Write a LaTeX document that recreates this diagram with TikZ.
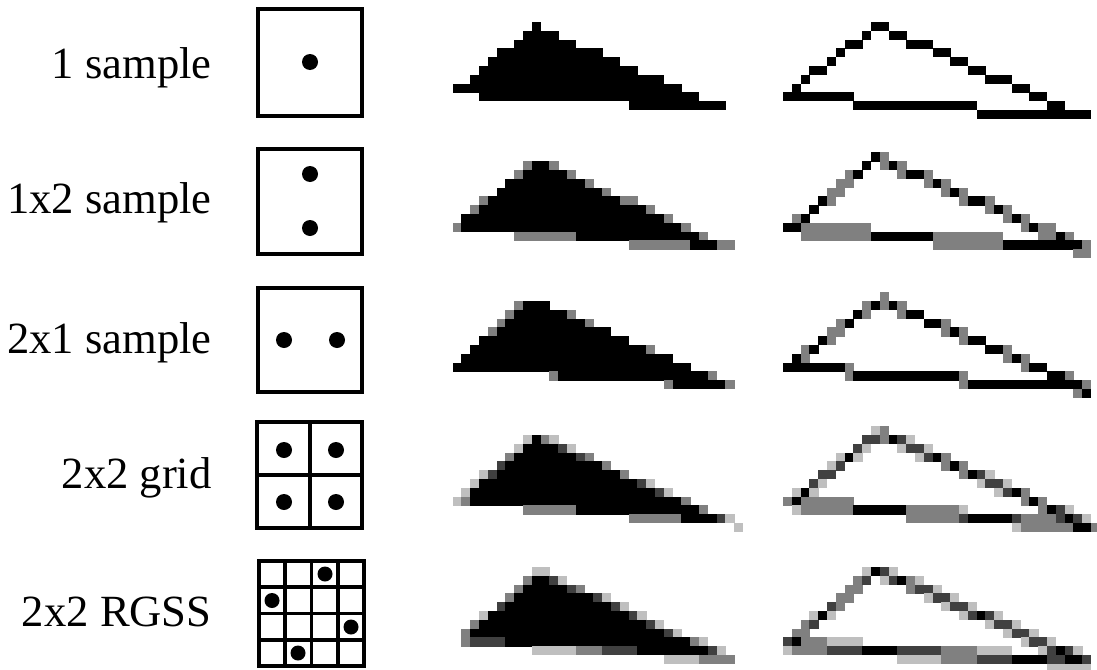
\documentclass[tikz,border=0pt]{standalone}
\usepackage{fontspec}
\setmainfont{Liberation Serif}
\newcount\rcnt
\newcount\onflag
\def\pix{8.8}
\def\gx{0}
\def\gy{0}
\def\sOne{0.5/0.5}
\def\sOneTwo{0.5/0.25,0.5/0.75}
\def\sTwoOne{0.25/0.5,0.75/0.5}
\def\sGrid{0.25/0.25,0.75/0.25,0.25/0.75,0.75/0.75}
\def\sRGSS{0.625/0.125,0.125/0.375,0.875/0.625,0.375/0.875}
\newcommand\prepverts[6]{%
  \pgfmathsetmacro\Au{(#1-\gx)/\pix}\pgfmathsetmacro\Av{(#2-\gy)/\pix}%
  \pgfmathsetmacro\Bu{(#3-\gx)/\pix}\pgfmathsetmacro\Bv{(#4-\gy)/\pix}%
  \pgfmathsetmacro\Cu{(#5-\gx)/\pix}\pgfmathsetmacro\Cv{(#6-\gy)/\pix}%
  \pgfmathtruncatemacro\imin{floor(min(\Au,\Bu,\Cu))-1}%
  \pgfmathtruncatemacro\imax{floor(max(\Au,\Bu,\Cu))+1}%
  \pgfmathtruncatemacro\jmin{floor(min(\Av,\Bv,\Cv))-1}%
  \pgfmathtruncatemacro\jmax{floor(max(\Av,\Bv,\Cv))+1}%
}
\newcommand\pixfill[1]{%
  \ifnum\rcnt>0
    \pgfmathtruncatemacro\shade{100*\the\rcnt/#1}%
    \fill[black!\shade] (\i*\pix+\gx-0.15,\j*\pix+\gy-0.15) rectangle (\i*\pix+\pix+\gx+0.15,\j*\pix+\pix+\gy+0.15);%
  \fi
}
% filled triangle, sample coverage
\newcommand\rastfill[8]{%
  \prepverts{#1}{#2}{#3}{#4}{#5}{#6}%
  \foreach \i in {\imin,...,\imax}{%
    \foreach \j in {\jmin,...,\jmax}{%
      \global\rcnt=0
      \foreach \sx/\sy in #7{%
        \pgfmathsetmacro\uu{\i+\sx}\pgfmathsetmacro\vv{\j+\sy}%
        \pgfmathsetmacro\ea{(\Bu-\Au)*(\vv-\Av)-(\Bv-\Av)*(\uu-\Au)}%
        \pgfmathsetmacro\eb{(\Cu-\Bu)*(\vv-\Bv)-(\Cv-\Bv)*(\uu-\Bu)}%
        \pgfmathsetmacro\ec{(\Au-\Cu)*(\vv-\Cv)-(\Av-\Cv)*(\uu-\Cu)}%
        \ifdim\ea pt<0pt\else\ifdim\eb pt<0pt\else\ifdim\ec pt<0pt\else\global\advance\rcnt by 1 \fi\fi\fi
      }%
      \pixfill{#8}%
    }%
  }%
}
\newcommand\edgetest[5]{%
  \ifnum#5=1
    \pgfmathsetmacro\rT{(\uu-#1)/(#3)}%
    \pgfmathsetmacro\rD{abs(#2+(#4)*\rT-\vv)}%
  \else
    \pgfmathsetmacro\rT{(\vv-#2)/(#4)}%
    \pgfmathsetmacro\rD{abs(#1+(#3)*\rT-\uu)}%
  \fi
  \ifdim\rT pt<-0.01pt\else\ifdim\rT pt>1.01pt\else\ifdim\rD pt<0.5pt\global\onflag=1 \fi\fi\fi
}
% outline triangle, line rasterisation per sample
\newcommand\rastline[8]{%
  \prepverts{#1}{#2}{#3}{#4}{#5}{#6}%
  \pgfmathsetmacro\eAdu{\Bu-\Au}\pgfmathsetmacro\eAdv{\Bv-\Av}%
  \pgfmathtruncatemacro\eAm{abs(\eAdu)>=abs(\eAdv)}%
  \pgfmathsetmacro\eBdu{\Cu-\Bu}\pgfmathsetmacro\eBdv{\Cv-\Bv}%
  \pgfmathtruncatemacro\eBm{abs(\eBdu)>=abs(\eBdv)}%
  \pgfmathsetmacro\eCdu{\Au-\Cu}\pgfmathsetmacro\eCdv{\Av-\Cv}%
  \pgfmathtruncatemacro\eCm{abs(\eCdu)>=abs(\eCdv)}%
  \foreach \i in {\imin,...,\imax}{%
    \foreach \j in {\jmin,...,\jmax}{%
      \global\rcnt=0
      \foreach \sx/\sy in #7{%
        \pgfmathsetmacro\uu{\i+\sx}\pgfmathsetmacro\vv{\j+\sy}%
        \global\onflag=0
        \edgetest{\Au}{\Av}{\eAdu}{\eAdv}{\eAm}%
        \ifnum\onflag=0 \edgetest{\Bu}{\Bv}{\eBdu}{\eBdv}{\eBm}\fi
        \ifnum\onflag=0 \edgetest{\Cu}{\Cv}{\eCdu}{\eCdv}{\eCm}\fi
        \ifnum\onflag=1 \global\advance\rcnt by 1 \fi
      }%
      \pixfill{#8}%
    }%
  }%
}
\tikzset{
  lbl/.style={font=\fontsize{22.3}{26}\selectfont, inner sep=0pt, anchor=base east},
  sbox/.style={draw=black, line width=2pt},
  sgrid/.style={draw=black, line width=1.7pt},
  sdot/.style={fill=black},
}
\begin{document}
\begin{tikzpicture}[x=0.5pt,y=-0.5pt]
\useasboundingbox (0,0) rectangle (1097,669);
% labels
\node[lbl] (l1) at (212,78) {1 sample};
\node[lbl] (l2) at (212,213) {1x2 sample};
\node[lbl] (l3) at (212,353) {2x1 sample};
\node[lbl] (l4) at (212,488) {2x2 grid};
\node[lbl] (l5) at (212,626) {2x2 RGSS};
% sample pattern boxes
\draw[sbox] (258,9) rectangle (362,116);
\fill[sdot] (310,62) circle[radius=8];
\draw[sbox] (258,149) rectangle (362,254);
\fill[sdot] (310,174) circle[radius=8];
\fill[sdot] (310,228) circle[radius=8];
\draw[sbox] (258,288) rectangle (362,392);
\fill[sdot] (284,340) circle[radius=8];
\fill[sdot] (337,340) circle[radius=8];
\draw[sgrid] (310,422) -- (310,528) (258,475) -- (362,475);
\draw[sbox] (257,422) rectangle (362,528);
\fill[sdot] (284,450) circle[radius=8];
\fill[sdot] (336,450) circle[radius=8];
\fill[sdot] (284,502) circle[radius=8];
\fill[sdot] (336,502) circle[radius=8];
\draw[sgrid] (285,561) -- (285,666) (311.5,561) -- (311.5,666) (338,561) -- (338,666)
  (259,587) -- (364,587) (259,613.5) -- (364,613.5) (259,640) -- (364,640);
\draw[sbox] (259,561) rectangle (364,666);
\fill[sdot] (325,574) circle[radius=7.5];
\fill[sdot] (272,600.5) circle[radius=7.5];
\fill[sdot] (351,627) circle[radius=7.5];
\fill[sdot] (298,653) circle[radius=7.5];
% rasterised triangles
\def\gx{4}\def\gy{4.5}
\rastfill{448}{95}{535}{25}{738}{112}{\sOne}{1}
\def\gx{0}
\rastline{785}{97}{878}{26}{1084}{117}{\sOne}{1}
\def\gx{4}\def\gy{3}
\rastfill{450}{229}{537}{159}{739}{251}{\sOneTwo}{2}
\def\gx{0}
\rastline{790}{229}{877}{158}{1085}{248}{\sOneTwo}{2}
\def\gx{4}\def\gy{2}
\rastfill{450}{368}{530}{297}{746}{391}{\sTwoOne}{2}
\def\gx{0}
\rastline{787}{367}{880}{300}{1090}{390}{\sTwoOne}{2}
\def\gx{4}\def\gy{4}
\rastfill{455}{502}{537}{435}{740}{526}{\sGrid}{4}
\def\gx{0}
\rastline{792}{503}{880}{433}{1092}{527}{\sGrid}{4}
\def\gx{4}\def\gy{4}
\rastfill{455}{642}{540}{571}{737}{661}{\sRGSS}{4}
\def\gx{0}
\rastline{787}{645}{878}{570}{1088}{663}{\sRGSS}{4}
\end{tikzpicture}
\end{document}
